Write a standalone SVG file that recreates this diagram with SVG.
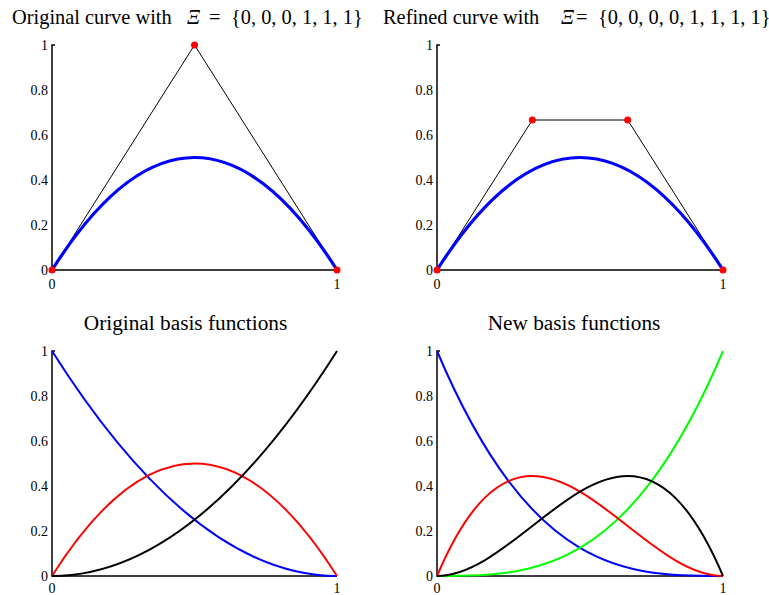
<svg xmlns="http://www.w3.org/2000/svg" width="769" height="595" viewBox="0 0 769 595">
<style>
text{font-family:"Liberation Serif","Times New Roman",serif;fill:#000}
.t{font-size:20.4px}
.b{font-size:21.3px}
.k{font-size:14px}
.yl{text-anchor:end}
.xl{text-anchor:middle}
.ax{fill:none;stroke:#000;stroke-width:1.5}
.poly{fill:none;stroke:#000;stroke-width:1}
.c{fill:none;stroke-width:2}
.thick{fill:none;stroke:#0000ff;stroke-width:3.2}
.dot{fill:#ff0000}
</style>
<defs>
<g id="yt">
<text class="k yl" x="0" y="5">1</text>
<text class="k yl" x="0" y="50">0.8</text>
<text class="k yl" x="0" y="95">0.6</text>
<text class="k yl" x="0" y="140">0.4</text>
<text class="k yl" x="0" y="185">0.2</text>
<text class="k yl" x="0" y="230">0</text>
</g>
</defs>

<g id="panel-tl">
<text class="t" x="12" y="24">Original curve with</text>
<text class="t" x="187" y="24" font-style="italic">Ξ</text>
<text class="t" x="209" y="24">=</text>
<text class="t" x="231" y="24">{0, 0, 0, 1, 1, 1}</text>
<use href="#yt" x="48" y="45"/>
<text class="k xl" x="52" y="289">0</text>
<text class="k xl" x="337" y="289">1</text>
<path class="ax" d="M55,45 H52 V270 H337"/>
<path class="poly" d="M52,270 L194.5,45 L337,270"/>
<path class="thick" d="M52,270 Q194.5,45 337,270"/>
<circle class="dot" cx="52" cy="270" r="3.5"/>
<circle class="dot" cx="194.5" cy="45" r="3.5"/>
<circle class="dot" cx="337" cy="270" r="3.5"/>
</g>

<g id="panel-tr">
<text class="t" x="383" y="24">Refined curve with</text>
<text class="t" x="561" y="24" font-style="italic">Ξ</text>
<text class="t" x="576" y="24">=</text>
<text class="t" x="598" y="24">{0, 0, 0, 0, 1, 1, 1, 1}</text>
<use href="#yt" x="433" y="45"/>
<text class="k xl" x="437" y="289">0</text>
<text class="k xl" x="723" y="289">1</text>
<path class="ax" d="M440,45 H437 V270 H723"/>
<path class="poly" d="M437,270 L532.33,120 L627.67,120 L723,270"/>
<path class="thick" d="M437,270 C532.33,120 627.67,120 723,270"/>
<circle class="dot" cx="437" cy="270" r="3.5"/>
<circle class="dot" cx="532.33" cy="120" r="3.5"/>
<circle class="dot" cx="627.67" cy="120" r="3.5"/>
<circle class="dot" cx="723" cy="270" r="3.5"/>
</g>

<g id="panel-bl">
<text class="b xl" x="185.5" y="330">Original basis functions</text>
<use href="#yt" x="48" y="351"/>
<text class="k xl" x="52" y="593">0</text>
<text class="k xl" x="337" y="593">1</text>
<path class="ax" d="M55,351 H52 V576 H337"/>
<path class="c" stroke="#0000ff" d="M52,351 Q194.5,576 337,576"/>
<path class="c" stroke="#ff0000" d="M52,576 Q194.5,351 337,576"/>
<path class="c" stroke="#000000" d="M52,576 Q194.5,576 337,351"/>
</g>

<g id="panel-br">
<text class="b xl" x="574" y="330">New basis functions</text>
<use href="#yt" x="433" y="351"/>
<text class="k xl" x="437" y="593">0</text>
<text class="k xl" x="723" y="593">1</text>
<path class="ax" d="M440,351 H437 V576 H723"/>
<path class="c" stroke="#0000ff" d="M437,351 C532.33,576 627.67,576 723,576"/>
<path class="c" stroke="#00ff00" d="M437,576 C532.33,576 627.67,576 723,351"/>
<path class="c" stroke="#ff0000" d="M437,576 C532.33,351 627.67,576 723,576"/>
<path class="c" stroke="#000000" d="M437,576 C532.33,576 627.67,351 723,576"/>
</g>
</svg>
